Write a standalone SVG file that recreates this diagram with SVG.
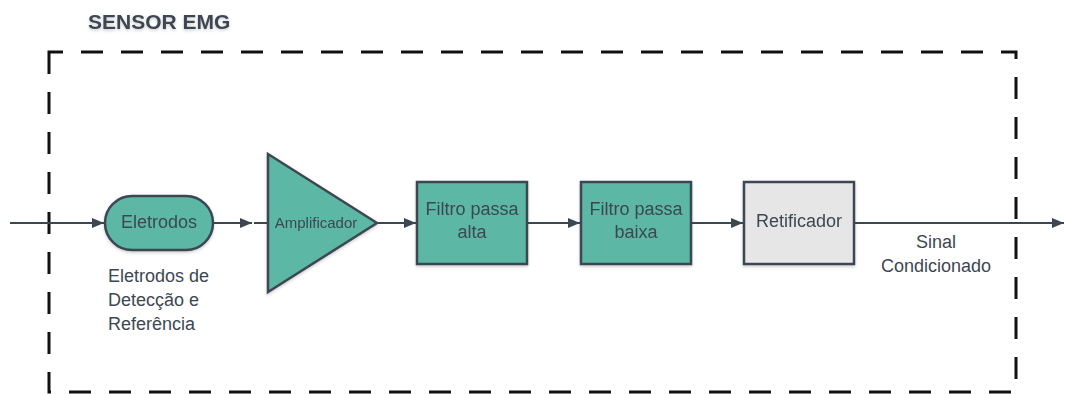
<svg xmlns="http://www.w3.org/2000/svg" width="1065" height="394" viewBox="0 0 1065 394">
  <defs>
    <marker id="arrow" viewBox="0 0 12 10" refX="12" refY="5" markerWidth="12" markerHeight="10" markerUnits="userSpaceOnUse" orient="auto">
      <path d="M0,0 L12,5 L0,10 Z" fill="#3d4752"/>
    </marker>
    <filter id="soft" x="-10%" y="-10%" width="120%" height="130%">
      <feDropShadow dx="0" dy="1.5" stdDeviation="1.5" flood-color="#000" flood-opacity="0.2"/>
    </filter>
  </defs>
  <style>
    .lbl { font-family: "Liberation Sans", Arial, sans-serif; fill: #3d4752; text-anchor: middle; font-size: 18px; }
    .small { font-size: 15px; }
    .note { font-family: "Liberation Sans", Arial, sans-serif; fill: #3d4752; font-size: 18px; }
    .block { fill: #5bb8a5; stroke: #3d4752; stroke-width: 2.5; }
    .wire { fill: none; stroke: #3d4752; stroke-width: 2; }
  </style>
  <rect width="1065" height="394" fill="#ffffff"/>

  <!-- boundary of the sensor -->
  <g id="boundary">
    <text x="88" y="29" font-family="Liberation Sans, Arial, sans-serif" font-weight="bold" font-size="21" fill="#3d4752" filter="url(#soft)">SENSOR EMG</text>
    <rect x="49" y="52" width="967" height="340" fill="none" stroke="#111" stroke-width="3" stroke-dasharray="22 18" stroke-dashoffset="8"/>
  </g>

  <!-- connectors -->
  <g id="connectors">
    <line class="wire" x1="10" y1="223" x2="104" y2="223" marker-end="url(#arrow)"/>
    <line class="wire" x1="213" y1="223" x2="252" y2="223" marker-end="url(#arrow)"/>
    <line class="wire" x1="254" y1="223" x2="268" y2="223"/>
    <line class="wire" x1="377" y1="223" x2="416" y2="223" marker-end="url(#arrow)"/>
    <line class="wire" x1="527" y1="223" x2="580" y2="223" marker-end="url(#arrow)"/>
    <line class="wire" x1="691" y1="223" x2="743" y2="223" marker-end="url(#arrow)"/>
    <line class="wire" x1="854" y1="223" x2="1064" y2="223" marker-end="url(#arrow)"/>
  </g>

  <g id="eletrodos" filter="url(#soft)">
    <rect class="block" x="105" y="196" width="108" height="54" rx="27" ry="27"/>
    <text class="lbl" x="159" y="228">Eletrodos</text>
  </g>
  <g id="eletrodos-note">
    <text class="note" x="108" y="282">Eletrodos de</text>
    <text class="note" x="108" y="306">Detecção e</text>
    <text class="note" x="108" y="330">Referência</text>
  </g>

  <g id="amplificador" filter="url(#soft)">
    <polygon class="block" points="268,154 377,223 268,292"/>
    <text class="lbl small" x="316" y="228">Amplificador</text>
  </g>

  <g id="filtro-alta" filter="url(#soft)">
    <rect class="block" x="417" y="182" width="110" height="82"/>
    <text class="lbl" x="472" y="215">Filtro passa</text>
    <text class="lbl" x="472" y="238">alta</text>
  </g>

  <g id="filtro-baixa" filter="url(#soft)">
    <rect class="block" x="581" y="182" width="110" height="82"/>
    <text class="lbl" x="636" y="215">Filtro passa</text>
    <text class="lbl" x="636" y="238">baixa</text>
  </g>

  <g id="retificador" filter="url(#soft)">
    <rect x="744" y="182" width="110" height="82" fill="#e6e6e6" stroke="#3d4752" stroke-width="2.5"/>
    <text class="lbl" x="799" y="227">Retificador</text>
  </g>

  <g id="saida">
    <text class="lbl" x="936" y="248">Sinal</text>
    <text class="lbl" x="936" y="272">Condicionado</text>
  </g>
</svg>
